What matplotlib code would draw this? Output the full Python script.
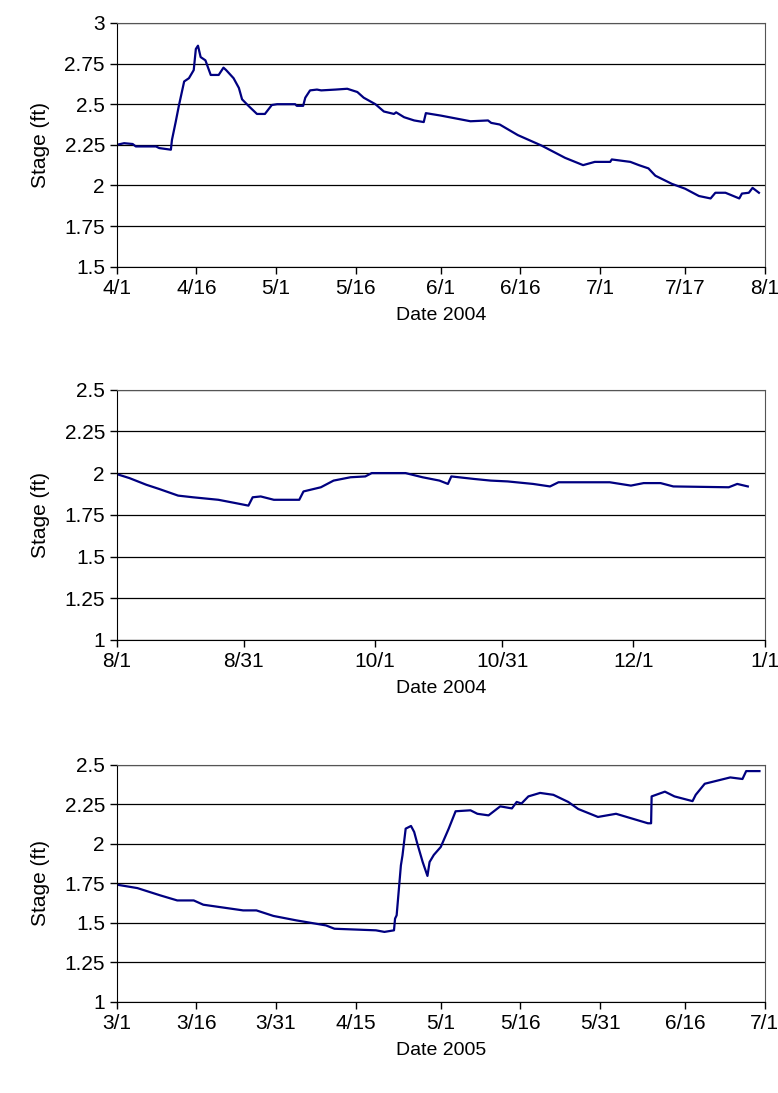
import matplotlib
matplotlib.use("Agg")
import matplotlib.pyplot as plt
from matplotlib.ticker import FuncFormatter

plt.rcParams['font.family'] = ['Liberation Sans', 'DejaVu Sans']

# panel 1: days since 4/1/2004
days1 = [0, 1.4, 3, 3.6, 7.4, 8, 10.2, 10.4, 11.1, 11.7, 12.7, 13.6, 14.5, 14.9, 15.3, 15.8, 16.7,
         17.7, 19.2, 20.1, 20.6, 22, 23, 23.6, 24.8, 26.4, 27.9, 29.2, 30.2, 33.6, 33.9, 35.1, 35.5,
         36.4, 37.7, 38.5, 41.2, 43.4, 45.3, 46.5, 48.7, 50.3, 52.2, 52.6, 54.1, 56, 57.8, 58.2, 61,
         64.2, 66.6, 69.9, 70.5, 72.1, 75.5, 80, 84.4, 87.8, 90, 92.9, 93.2, 96.7, 98.3, 100.1, 101.4,
         104.5, 107, 109.6, 111.8, 112.7, 114.6, 117.2, 117.7, 119, 119.7, 120.9]
stage1 = [2.25, 2.26, 2.255, 2.24, 2.24, 2.23, 2.22, 2.28, 2.39, 2.49, 2.64, 2.66, 2.71, 2.84, 2.86,
          2.79, 2.77, 2.68, 2.68, 2.725, 2.71, 2.66, 2.60, 2.53, 2.49, 2.44, 2.44, 2.495, 2.50, 2.50,
          2.49, 2.49, 2.54, 2.585, 2.59, 2.585, 2.59, 2.595, 2.575, 2.54, 2.50, 2.455, 2.44, 2.45,
          2.42, 2.40, 2.39, 2.445, 2.43, 2.41, 2.395, 2.40, 2.385, 2.375, 2.31, 2.245, 2.17, 2.125,
          2.145, 2.145, 2.16, 2.145, 2.125, 2.105, 2.06, 2.01, 1.98, 1.935, 1.92, 1.955, 1.955, 1.92,
          1.95, 1.955, 1.985, 1.955]

# panel 2: days since 8/1/2004
days2 = [0, 3, 7, 10, 14.5, 18, 24, 28.1, 31.1, 32.1, 34, 37.1, 43.1, 44.1, 48.2, 51.2, 55.2, 58.7,
         60.2, 68.2, 72.2, 76.2, 78.2, 79, 84.3, 88.3, 92.3, 98.3, 102.3, 104.3, 116.4, 121.4, 124.4,
         128.4, 131.4, 144.5, 146.5, 149]
stage2 = [1.994, 1.97, 1.93, 1.905, 1.865, 1.855, 1.84, 1.82, 1.805, 1.855, 1.86, 1.84, 1.84, 1.89,
          1.915, 1.955, 1.975, 1.98, 2.0, 2.0, 1.975, 1.955, 1.935, 1.98, 1.965, 1.955, 1.95, 1.935,
          1.92, 1.945, 1.945, 1.925, 1.94, 1.94, 1.92, 1.915, 1.935, 1.92]

# panel 3: days since 3/1/2005
days3 = [0, 3.9, 8.2, 11.4, 14.5, 16.3, 23.8, 26.3, 29.5, 33.8, 39.4, 41, 48.8, 50.4, 52.2, 52.4,
         52.7, 53.5, 53.8, 54.4, 55.4, 56, 56.6, 57.6, 58.5, 58.9, 59.7, 61, 62.5, 63.8, 66.6, 67.9,
         70, 72.2, 74.4, 75.3, 76.2, 77.5, 79.7, 82.2, 85, 86.9, 90.6, 94, 100, 100.6, 100.7, 103.2,
         105, 108.4, 109, 110.7, 113.1, 115.5, 117.8, 118.5, 121]
stage3 = [1.742, 1.72, 1.674, 1.642, 1.642, 1.615, 1.579, 1.579, 1.544, 1.516, 1.484, 1.463, 1.453,
          1.443, 1.453, 1.527, 1.548, 1.864, 1.927, 2.096, 2.113, 2.075, 2.0, 1.885, 1.797, 1.885,
          1.93, 1.98, 2.096, 2.206, 2.212, 2.19, 2.18, 2.237, 2.224, 2.265, 2.255, 2.30, 2.322, 2.31,
          2.265, 2.22, 2.17, 2.19, 2.13, 2.13, 2.30, 2.33, 2.30, 2.27, 2.31, 2.38, 2.40, 2.42, 2.41,
          2.46, 2.46]

panels = [
    dict(x=days1, y=stage1, xmax=122, ticks=[0, 15, 30, 45, 61, 76, 91, 107, 122],
         labels=['4/1', '4/16', '5/1', '5/16', '6/1', '6/16', '7/1', '7/17', '8/1'],
         ylim=(1.5, 3), xlabel='Date 2004', pos=[0.150, 0.756, 0.833, 0.223]),
    dict(x=days2, y=stage2, xmax=153, ticks=[0, 30, 61, 91, 122, 153],
         labels=['8/1', '8/31', '10/1', '10/31', '12/1', '1/1'],
         ylim=(1, 2.5), xlabel='Date 2004', pos=[0.150, 0.4145, 0.833, 0.229]),
    dict(x=days3, y=stage3, xmax=122, ticks=[0, 15, 30, 45, 61, 76, 91, 107, 122],
         labels=['3/1', '3/16', '3/31', '4/15', '5/1', '5/16', '5/31', '6/16', '7/1'],
         ylim=(1, 2.5), xlabel='Date 2005', pos=[0.150, 0.0833, 0.833, 0.217]),
]

fig = plt.figure(figsize=(7.78, 10.93), dpi=100)
for p in panels:
    ax = fig.add_axes(p['pos'])
    ax.plot(p['x'], p['y'], color='#000080', lw=1.6)
    ax.set_xlim(0, p['xmax'])
    ax.set_ylim(*p['ylim'])
    ax.set_xticks(p['ticks'])
    ax.set_xticklabels(p['labels'])
    lo, hi = p['ylim']
    yt = [lo + 0.25 * i for i in range(int(round((hi - lo) / 0.25)) + 1)]
    ax.set_yticks(yt)
    ax.yaxis.set_major_formatter(FuncFormatter(lambda v, _: '%g' % v))
    ax.grid(axis='y', color='black', lw=0.9)
    ax.tick_params(direction='out', labelsize=15, length=5, width=1)
    ax.tick_params(axis='x', pad=4)
    for s in ax.spines.values():
        s.set_color('#555555')
    ax.spines['left'].set_color('black')
    ax.spines['bottom'].set_color('black')
    ax.set_ylabel('Stage (ft)', fontsize=15, labelpad=10)
    ax.set_xlabel(p['xlabel'], fontsize=14, labelpad=6)

fig.savefig('out.png', dpi=100)
